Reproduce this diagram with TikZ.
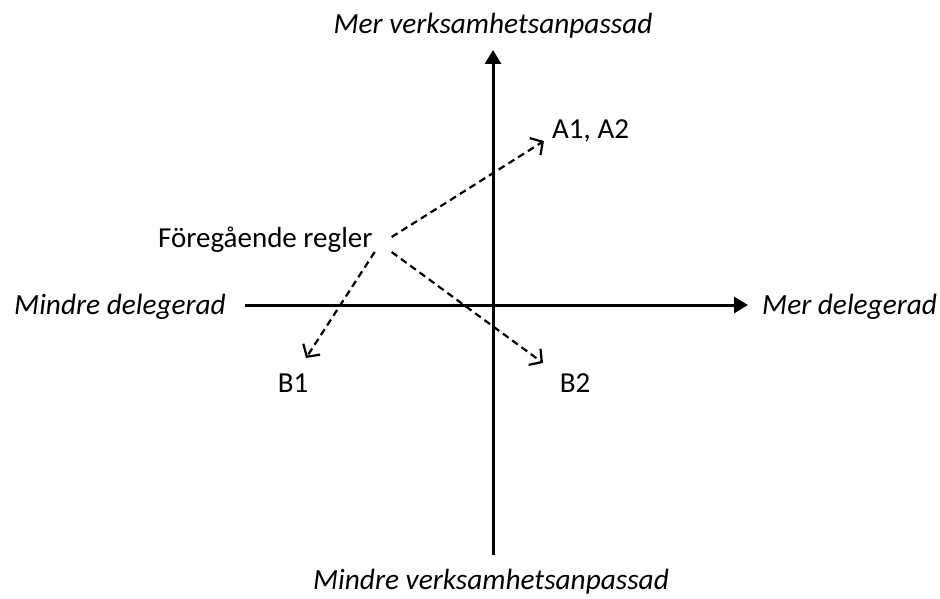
\documentclass[tikz,border=0pt]{standalone}
\usepackage{fontspec}
\setmainfont{Carlito}
\usetikzlibrary{arrows.meta}

\tikzset{
  lbl/.style={inner sep=0pt, font=\fontsize{29}{35}\selectfont},
  axlbl/.style={lbl, font=\fontsize{29.3}{35}\selectfont\itshape},
  axis/.style={line width=3pt, -{Triangle[length=14pt,width=16pt]}},
  dasharrow/.style={line width=2.2pt, dash pattern=on 7pt off 4.5pt,
    -{Straight Barb[length=9pt,width=20pt]}}
}

\begin{document}
\begin{tikzpicture}[x=1pt, y=-1pt]
    \useasboundingbox (0,0) rectangle (940,599);

    % Axes
    \coordinate (vbot) at (493,555);
    \coordinate (vtop) at (493,50);
    \coordinate (hleft) at (245,305);
    \coordinate (hright) at (748,305);
    \draw[axis] (vbot) -- (vtop);
    \draw[axis] (hleft) -- (hright);

    % Axis labels
    \node[axlbl, anchor=base] (top) at (493,34) {Mer verksamhetsanpassad};
    \node[axlbl, anchor=base] (bot) at (491,589) {Mindre verksamhetsanpassad};
    \node[axlbl, anchor=base east] (left) at (226,314) {Mindre delegerad};
    \node[axlbl, anchor=base west] (right) at (762,314) {Mer delegerad};

    % Rules
    \node[lbl, anchor=base west] (fr) at (158,247) {Föregående regler};
    \node[lbl, anchor=base west] (a) at (552,139) {A1, A2};
    \node[lbl, anchor=base] (b1) at (293,392) {B1};
    \node[lbl, anchor=base] (b2) at (575,392) {B2};

    \draw[dasharrow] ([shift={(19,-10)}]fr.base east) -- ([shift={(-8,2)}]a.base west);
    \draw[dasharrow] ([shift={(2,5)}]fr.base east) -- ([shift={(13,-34)}]b1.base);
    \draw[dasharrow] ([shift={(19,5)}]fr.base east) -- ([shift={(-32,-29)}]b2.base);
\end{tikzpicture}
\end{document}
